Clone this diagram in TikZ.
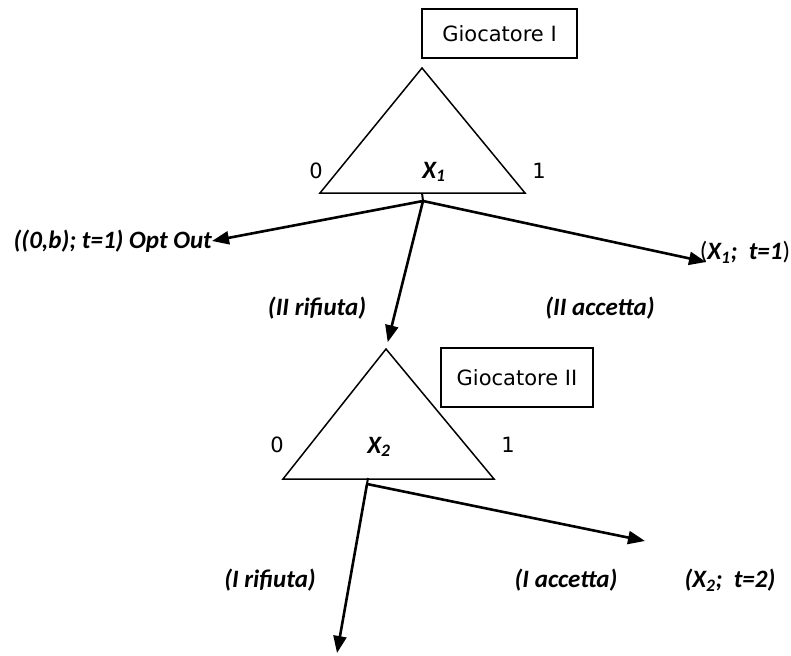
\documentclass[tikz,border=0pt]{standalone}
\usepackage{fontspec}
\usepackage{tikz}
\usetikzlibrary{arrows.meta}
\newfontfamily\labelfont{Carlito}
\newfontfamily\boxfont{DejaVu Sans}

\begin{document}
\begin{tikzpicture}[x={(1pt,0pt)}, y={(0pt,-1pt)},
  lbl/.style={font=\labelfont\fontsize{25}{29}\selectfont\bfseries\itshape, inner sep=0pt},
  txt/.style={font=\boxfont\fontsize{21}{25}\selectfont, inner sep=0pt},
  branch/.style={line width=2.6pt, -{Triangle[length=17pt,width=13pt]}}]
  \useasboundingbox (0,0) rectangle (791,655);

  % Nodes
  \node[draw,rectangle,txt,line width=1.3pt,minimum width=155pt,minimum height=49pt] (Player1) at (499.5,33.5) {Giocatore I};
  \coordinate (Apex1) at (422,68);
  \coordinate (Left1) at (320,193);
  \coordinate (Right1) at (525,193);
  \coordinate (Base1) at (422,193);
  \coordinate (Root1) at (423,201);
  \node[txt] (Zero1) at (316,171) {0};
  \node[txt] (One1) at (539,171) {1};
  \node[lbl] (Offer1) at (434,172) {X\textsubscript{1}};

  \node[lbl,anchor=east] (OptOut) at (212,241) {((0,b); t=1) Opt Out};
  \node[lbl] (Accept1) at (745,252) {\normalfont\labelfont(\bfseries\itshape X\textsubscript{1};\ \ t=1\normalfont\labelfont)};
  \coordinate (End1) at (706,262);
  \node[lbl] (Reject1) at (317,308) {(II rifiuta)};
  \node[lbl] (Agree1) at (600,308) {(II accetta)};

  \node[draw,rectangle,txt,line width=1.3pt,minimum width=152pt,minimum height=59pt] (Player2) at (517,377.5) {Giocatore II};
  \coordinate (Apex2) at (386,349);
  \coordinate (Left2) at (283,479);
  \coordinate (Right2) at (494,479);
  \coordinate (Base2) at (368,478);
  \coordinate (Root2) at (367,484);
  \node[txt] (Zero2) at (277,445) {0};
  \node[txt] (One2) at (508,445) {1};
  \node[lbl] (Offer2) at (379,447) {X\textsubscript{2}};

  \coordinate (End2) at (645,541);
  \coordinate (End3) at (337,653);
  \node[lbl] (Reject2) at (270,580) {(I rifiuta)};
  \node[lbl] (Agree2) at (566,580) {(I accetta)};
  \node[lbl] (Accept2) at (730,580) {(X\textsubscript{2};\ \ t=2)};

  % Edges
  \draw[line width=1.5pt] (Apex1) -- (Left1) -- (Right1) -- cycle;
  \draw[line width=1.5pt] (Apex2) -- (Left2) -- (Right2) -- cycle;
  \draw[line width=2pt] (Base1) -- (Root1);
  \draw[line width=2pt] (Base2) -- (Root2);

  \draw[branch] (Root1) -- (OptOut.east);
  \draw[branch] (Root1) -- (End1);
  \draw[branch,shorten >=7pt] (Root1) -- (Apex2);
  \draw[branch] (Root2) -- (End2);
  \draw[branch] (Root2) -- (End3);
\end{tikzpicture}
\end{document}
